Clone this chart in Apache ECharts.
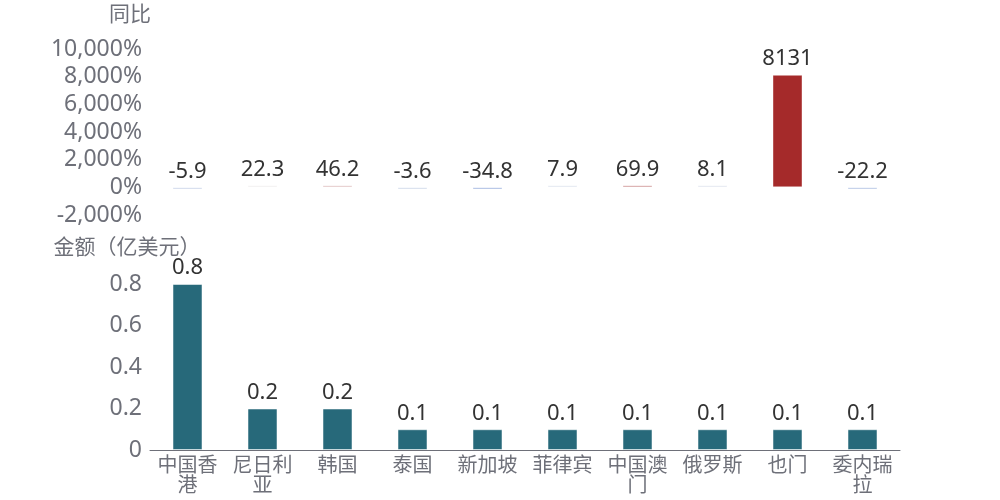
<!DOCTYPE html>
<html>
<head>
<meta charset="utf-8">
<script src="https://cdn.jsdelivr.net/npm/echarts@6/dist/echarts.min.js"></script>
<style>
  html, body { margin: 0; padding: 0; background: #fff; }
  #main { width: 1000px; height: 500px; }
</style>
</head>
<body>
<div id="main"></div>
<script>
// 国家/地区
var countries = ['中国香港', '尼日利亚', '韩国', '泰国', '新加坡', '菲律宾', '中国澳门', '俄罗斯', '也门', '委内瑞拉'];
// 同比 (%)
var yoy = [-5.9, 22.3, 46.2, -3.6, -34.8, 7.9, 69.9, 8.1, 8131, -22.2];
// 金额 (亿美元)
var amount = [0.8, 0.2, 0.2, 0.1, 0.1, 0.1, 0.1, 0.1, 0.1, 0.1];

var FONT = 'Noto Sans, Noto Sans CJK SC, sans-serif';
var chart = echarts.init(document.getElementById('main'));

chart.setOption({
  textStyle: { fontFamily: FONT },
  // 同比颜色：负值偏蓝，正值偏红
  visualMap: {
    show: false,
    type: 'continuous',
    seriesIndex: 0,
    min: -60,
    max: 100,
    inRange: { color: ['#4a73c8', '#eeeeee', '#a52a2a'] }
  },
  grid: [
    { left: 150, right: 100, top: 49, height: 166 },  // 同比
    { left: 150, right: 100, top: 284, height: 166 }  // 金额
  ],
  xAxis: [{
    type: 'category',
    gridIndex: 0,
    data: countries,
    axisLine: { show: false },
    axisTick: { show: false },
    axisLabel: { show: false }
  }, {
    type: 'category',
    gridIndex: 1,
    data: countries,
    axisLine: { lineStyle: { color: '#6E7079' } },
    axisTick: { alignWithLabel: true },
    axisLabel: {
      interval: 0,
      color: '#6E7079',
      fontSize: 20,
      lineHeight: 20,
      margin: 6,
      width: 62,
      overflow: 'break',
      fontFamily: FONT
    }
  }],
  yAxis: [{
    type: 'value',
    gridIndex: 0,
    name: '同比',
    nameGap: 23,
    nameTextStyle: { color: '#6E7079', fontSize: 21, align: 'center', padding: [0, 40, 0, 0] },
    min: -2000,
    max: 10000,
    interval: 2000,
    splitLine: { show: false },
    axisLabel: { color: '#6E7079', fontSize: 23, formatter: '{value}%', margin: 8 }
  }, {
    type: 'value',
    gridIndex: 1,
    name: '金额（亿美元）',
    nameGap: 25,
    nameTextStyle: { color: '#6E7079', fontSize: 21, align: 'center', padding: [0, 46, 0, 0] },
    min: 0,
    max: 0.8,
    interval: 0.2,
    splitLine: { show: false },
    axisLabel: { color: '#6E7079', fontSize: 23, margin: 8 }
  }],
  series: [{
    name: '同比',
    type: 'bar',
    xAxisIndex: 0,
    yAxisIndex: 0,
    barWidth: 30,
    barMinHeight: 2,
    data: yoy,
    itemStyle: { borderColor: 'rgba(255,255,255,0.4)', borderWidth: 1 },
    label: { show: true, position: 'top', color: '#333', fontSize: 22 }
  }, {
    name: '金额',
    type: 'bar',
    xAxisIndex: 1,
    yAxisIndex: 1,
    barWidth: 30,
    data: amount,
    itemStyle: { color: '#27697a', borderColor: 'rgba(255,255,255,0.5)', borderWidth: 1 },
    label: { show: true, position: 'top', color: '#333', fontSize: 22 }
  }]
});
</script>
</body>
</html>
